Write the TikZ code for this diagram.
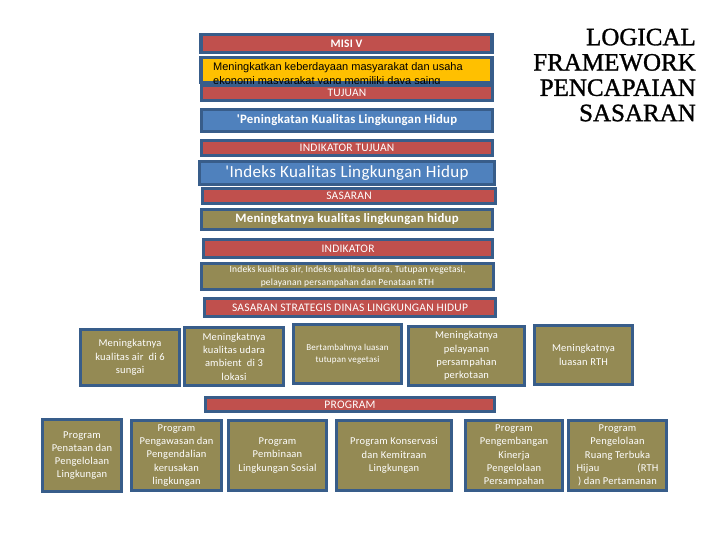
\documentclass[tikz,border=0pt]{standalone}
\usepackage{fontspec}
\setmainfont{Carlito}
\newfontfamily\boxfont{Carlito}[LetterSpace=2]
\newfontfamily\titlefont{Liberation Serif}[FakeBold=1.2]
\newfontfamily\arialfont{Liberation Sans}
\definecolor{edge}{RGB}{56,93,138}
\definecolor{barred}{RGB}{192,80,77}
\definecolor{gold}{RGB}{255,192,0}
\definecolor{skyblue}{RGB}{79,129,189}
\definecolor{khaki}{RGB}{148,138,84}

\begin{document}
\begin{tikzpicture}[x=1pt, y=-1pt,
  bar/.style={rectangle, draw=edge, line width=3.2pt, fill=barred, text=white, inner sep=0pt,
    font=\boxfont\fontsize{11.5}{13}\selectfont, minimum width=291pt},
  band/.style={rectangle, draw=edge, line width=3.2pt, text=white, align=center, inner sep=0pt, minimum width=291pt},
  unit/.style={rectangle, draw=edge, line width=3.2pt, fill=khaki, text=white, align=center, inner sep=0pt,
    font=\boxfont\fontsize{10.5}{13.3}\selectfont},
]
\useasboundingbox (0,0) rectangle (720,540);

\node[font=\titlefont\fontsize{25}{25.3}\selectfont, align=right, anchor=north east, inner sep=0pt] (judul) at (696,28.5)
  {LOGICAL\\FRAMEWORK\\PENCAPAIAN\\SASARAN};

% === Misi dan tujuan ===
\node[bar, minimum height=18pt, font=\boxfont\bfseries\fontsize{11.5}{13}\selectfont] (misi) at (346.5,43.5) {MISI V};
\node[band, fill=gold, minimum height=25pt] (misiisi) at (346.5,70) {};
\node[font=\arialfont\fontsize{11}{13.6}\selectfont, align=left, anchor=north west, inner sep=0pt] (misiteks) at (213,62.6)
  {Meningkatkan keberdayaan masyarakat dan usaha\\ekonomi masyarakat yang memiliki daya saing};
\node[bar, minimum height=15pt] (tujuan) at (347,93) {TUJUAN};
\node[band, fill=skyblue, minimum height=22pt, font=\boxfont\bfseries\fontsize{12.8}{14}\selectfont] (tujuanisi) at (347,120.5)
  {'Peningkatan Kualitas Lingkungan Hidup};
\node[bar, minimum height=15pt] (indtujuan) at (347,148) {INDIKATOR TUJUAN};
\node[band, fill=skyblue, minimum width=295pt, minimum height=23pt, font=\boxfont\fontsize{17}{18}\selectfont] (indtujuanisi) at (347,173)
  {'Indeks Kualitas Lingkungan Hidup};

% === Sasaran dan indikator ===
\node[bar, minimum width=293pt, minimum height=15pt] (sasaran) at (349,196) {SASARAN};
\node[band, fill=khaki, minimum height=20pt, font=\boxfont\bfseries\fontsize{12.8}{14}\selectfont] (sasaranisi) at (347,219.5)
  {Meningkatnya kualitas lingkungan hidup};
\node[bar, minimum width=289pt, minimum height=18pt] (indikator) at (348,248.5) {INDIKATOR};
\node[band, fill=khaki, minimum width=292pt, minimum height=26pt, font=\boxfont\fontsize{9.5}{12.5}\selectfont] (indikatorisi) at (347.5,276.5)
  {Indeks kualitas air, Indeks kualitas udara, Tutupan vegetasi,\\pelayanan persampahan dan Penataan RTH};
\node[bar, minimum height=18pt] (strategis) at (350,307.5) {SASARAN STRATEGIS DINAS LINGKUNGAN HIDUP};

% === Sasaran strategis ===
\node[unit, minimum width=99pt, minimum height=56pt] (sasair) at (130,357.5) {Meningkatnya\\kualitas air~ di 6\\sungai};
\node[unit, minimum width=99pt, minimum height=58pt] (sasudara) at (234,356.5) {Meningkatnya\\kualitas udara\\ambient~ di 3\\lokasi};
\node[unit, minimum width=108pt, minimum height=59pt, font=\boxfont\fontsize{9}{12}\selectfont] (sasveg) at (347.5,354)
  {Bertambahnya luasan\\tutupan vegetasi};
\node[unit, minimum width=116pt, minimum height=59pt] (sassampah) at (466.5,356) {Meningkatnya\\pelayanan\\persampahan\\perkotaan};
\node[unit, minimum width=98pt, minimum height=59pt] (sasrth) at (583.5,355) {Meningkatnya\\luasan RTH};

% === Program ===
\node[bar, minimum width=289pt, minimum height=14pt] (program) at (350,404.5) {PROGRAM};
\node[unit, minimum width=79pt, minimum height=72pt] (prpenataan) at (82,455.5) {Program\\Penataan dan\\Pengelolaan\\Lingkungan};
\node[unit, minimum width=90pt, minimum height=70pt] (prpengawasan) at (176.5,455.5)
  {Program\\Pengawasan dan\\Pengendalian\\kerusakan\\lingkungan};
\node[unit, minimum width=98pt, minimum height=70pt] (prpembinaan) at (277.5,455.5) {Program\\Pembinaan\\Lingkungan Sosial};
\node[unit, minimum width=115pt, minimum height=70pt] (prkonservasi) at (394,455.5) {Program Konservasi\\dan Kemitraan\\Lingkungan};
\node[unit, minimum width=97pt, minimum height=70pt] (prsampah) at (514,455.5)
  {Program\\Pengembangan\\Kinerja\\Pengelolaan\\Persampahan};
\node[unit, minimum width=98pt, minimum height=70pt] (prrth) at (617.5,455.5)
  {Program\\Pengelolaan\\Ruang Terbuka\\\makebox[82pt]{Hijau\hfill(RTH}\\) dan Pertamanan};

\end{tikzpicture}
\end{document}
